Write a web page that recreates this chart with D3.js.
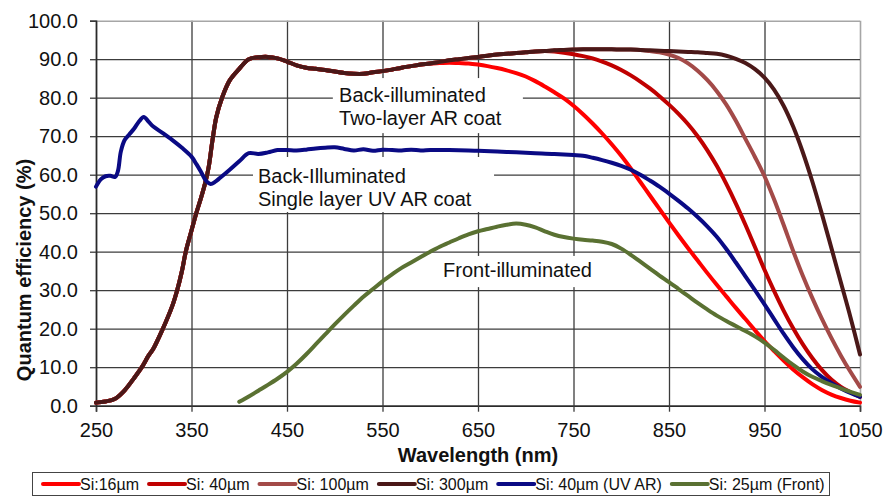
<!DOCTYPE html>
<html>
<head>
<meta charset="utf-8">
<script src="https://cdn.jsdelivr.net/npm/d3@7"></script>
<style>
	body { margin: 0; background: #fff; }
	text { font-family: "Liberation Sans", Arial, sans-serif; }
</style>
</head>
<body>
<div id="chart-area"></div>
<script>
// DATA - wavelength (nm), quantum efficiency (%)
// the four back-illuminated curves share the same shape below ~600 nm
const backShared = [
	[250, 0.8], [260, 1.1], [270, 1.8], [280, 4.0], [290, 7.2], [298, 10], [305, 13],
	[310, 14.8], [320, 20], [330, 26], [335, 30], [340, 35], [344, 40], [350, 45.5],
	[355, 50], [360, 54], [365, 58.5], [368, 62], [372, 69], [376, 75], [382, 80],
	[390, 84.5], [400, 87.5], [410, 90], [420, 90.5], [430, 90.6], [440, 90.2],
	[450, 89.4], [460, 88.4], [470, 87.8], [480, 87.5], [490, 87.2], [500, 86.8],
	[510, 86.4], [520, 86.2], [530, 86.2], [540, 86.6], [550, 86.9], [560, 87.3],
	[570, 87.8], [580, 88.2], [590, 88.6], [600, 88.9]
]

const tail16 = [
	[610, 89.0], [620, 89.1], [630, 89.0], [640, 88.9], [650, 88.6], [660, 88.2],
	[670, 87.7], [680, 87.1], [690, 86.4], [700, 85.5], [710, 84.3], [720, 82.9],
	[730, 81.4], [740, 79.8], [750, 77.9], [760, 75.7], [770, 73.3], [780, 70.7],
	[790, 67.9], [800, 64.9], [810, 61.6], [820, 58.1], [830, 54.6], [840, 51.1],
	[850, 47.6], [860, 44.2], [870, 40.9], [880, 37.7], [890, 34.5], [900, 31.4],
	[910, 28.4], [920, 25.4], [930, 22.5], [940, 19.6], [950, 16.8], [960, 14.2],
	[970, 11.7], [980, 9.4], [990, 7.4], [1000, 5.6], [1010, 4.1], [1020, 2.9],
	[1030, 2.0], [1040, 1.3], [1050, 0.8]
]

const tail300 = [
	[610, 89.3], [620, 89.7], [630, 90.0], [640, 90.3], [650, 90.6], [660, 90.9],
	[670, 91.2], [680, 91.4], [690, 91.6], [700, 91.8], [710, 92.0], [720, 92.1],
	[730, 92.3], [740, 92.4], [750, 92.5], [760, 92.6], [770, 92.6], [780, 92.6],
	[790, 92.6], [800, 92.5], [810, 92.5], [820, 92.4], [830, 92.3], [840, 92.2],
	[850, 92.1], [860, 92.0], [870, 91.9], [880, 91.8], [890, 91.6], [900, 91.4],
	[910, 90.9], [920, 90.1], [930, 89.0], [940, 87.4], [950, 85.2], [960, 82.1],
	[970, 77.9], [980, 72.5], [990, 65.9], [1000, 58.3], [1010, 49.9], [1020, 41.0],
	[1030, 32.0], [1040, 23.0], [1050, 13.3]
]

const tail40 = [
	[730, 92.0], [740, 91.7], [750, 91.3], [760, 90.8], [770, 90.2], [780, 89.4],
	[790, 88.4], [800, 87.2], [810, 85.8], [820, 84.2], [830, 82.4], [840, 80.4],
	[850, 78.2], [860, 75.8], [870, 73.1], [880, 70.0], [890, 66.4], [900, 62.3],
	[910, 57.6], [920, 52.5], [930, 47.0], [940, 41.2], [950, 35.3], [960, 29.8],
	[970, 24.7], [980, 20.1], [990, 16.0], [1000, 12.4], [1010, 9.3], [1020, 6.8],
	[1030, 4.9], [1040, 3.5], [1050, 2.3]
]

const tail100 = [
	[830, 92.1], [840, 91.8], [850, 91.2], [860, 90.3], [870, 88.9], [880, 87.0],
	[890, 84.6], [900, 81.7], [910, 78.2], [920, 74.0], [930, 69.3], [940, 64.6],
	[950, 59.6], [960, 53.6], [970, 47.0], [980, 40.2], [990, 33.8], [1000, 28.0],
	[1010, 22.6], [1020, 17.6], [1030, 13.0], [1040, 8.8], [1050, 4.9]
]

const uvAR = [
	[250, 56.9], [255, 58.8], [260, 59.6], [265, 59.7], [270, 59.4], [273, 61],
	[276, 66], [280, 69], [285, 70.5], [290, 72], [295, 73.8], [300, 75],
	[305, 73.8], [310, 72.5], [320, 70.8], [330, 69], [340, 67], [350, 64.7],
	[355, 62.8], [360, 60.7], [365, 58.5], [370, 57.6], [375, 58.2], [380, 59.2],
	[390, 61.3], [400, 63.5], [410, 65.6], [420, 65.4], [430, 65.8], [440, 66.4],
	[450, 66.4], [460, 66.3], [470, 66.5], [480, 66.8], [490, 67.0], [500, 67.1],
	[510, 66.7], [520, 66.3], [530, 66.6], [540, 66.2], [550, 66.5], [560, 66.4],
	[570, 66.3], [580, 66.5], [590, 66.3], [600, 66.4], [620, 66.4], [640, 66.3],
	[650, 66.2], [670, 66.0], [690, 65.8], [710, 65.6], [730, 65.4], [750, 65.1],
	[760, 64.9], [770, 64.4], [780, 63.8], [790, 63.1], [800, 62.3], [810, 61.3],
	[820, 60.0], [830, 58.5], [840, 56.9], [850, 55.1], [860, 53.2], [870, 51.2],
	[880, 49.0], [890, 46.6], [900, 43.9], [910, 40.7], [920, 37.2], [930, 33.6],
	[940, 30.0], [950, 26.3], [960, 22.5], [970, 18.7], [980, 15.2], [990, 12.1],
	[1000, 9.5], [1010, 7.5], [1020, 5.9], [1030, 4.5], [1040, 3.3], [1050, 2.3]
]

const front = [
	[400, 1.0], [410, 2.4], [420, 3.9], [430, 5.4], [440, 7.0], [450, 8.8],
	[460, 10.9], [470, 13.3], [480, 15.9], [490, 18.5], [500, 21.1], [510, 23.6],
	[520, 26.0], [530, 28.3], [540, 30.3], [550, 32.3], [560, 34.1], [570, 35.8],
	[580, 37.2], [590, 38.6], [600, 40.0], [610, 41.3], [620, 42.4], [630, 43.5],
	[640, 44.5], [650, 45.3], [660, 45.9], [670, 46.5], [680, 47.0], [690, 47.3],
	[700, 47.0], [710, 46.3], [720, 45.3], [730, 44.4], [740, 43.8], [750, 43.4],
	[760, 43.1], [770, 42.9], [780, 42.6], [790, 42.0], [800, 40.8], [810, 39.2],
	[820, 37.4], [830, 35.6], [840, 33.8], [850, 32.1], [860, 30.3], [870, 28.5],
	[880, 26.7], [890, 25.0], [900, 23.4], [910, 22.0], [920, 20.7], [930, 19.4],
	[940, 18.0], [950, 16.4], [960, 14.5], [970, 12.5], [980, 10.6], [990, 8.9],
	[1000, 7.5], [1010, 6.4], [1020, 5.4], [1030, 4.5], [1040, 3.6], [1050, 2.8]
]

const seriesNames = ["Si:16\u00b5m", "Si: 40\u00b5m", "Si: 100\u00b5m", "Si: 300\u00b5m", "Si: 40\u00b5m (UV AR)", "Si: 25\u00b5m (Front)"]
const seriesColors = ["#ff0000", "#c00000", "#a34a48", "#4a1818", "#0a0a84", "#5a7132"]

const xTicks = [250, 350, 450, 550, 650, 750, 850, 950, 1050]
const yTicks = [0, 10, 20, 30, 40, 50, 60, 70, 80, 90, 100]

// build the full curves from the pieces
const upTo = (arr, nm) => arr.filter(d => d[0] <= nm)
const seriesData = [
	backShared.concat(tail16),
	backShared.concat(upTo(tail300, 720), tail40),
	backShared.concat(upTo(tail300, 820), tail100),
	backShared.concat(tail300),
	uvAR,
	front
]

// MARGINS
const MARGIN = { LEFT: 96, RIGHT: 24, TOP: 20.7, BOTTOM: 91.3 }
const AREA_WIDTH = 884
const AREA_HEIGHT = 497
const WIDTH = AREA_WIDTH - MARGIN.LEFT - MARGIN.RIGHT
const HEIGHT = AREA_HEIGHT - MARGIN.TOP - MARGIN.BOTTOM

const svg = d3.select("#chart-area").append("svg")
	.attr("width", AREA_WIDTH)
	.attr("height", AREA_HEIGHT)

const g = svg.append("g")
	.attr("transform", `translate(${MARGIN.LEFT},${MARGIN.TOP})`)

// SCALES
const x = d3.scaleLinear().domain([250, 1050]).range([0, WIDTH])
const y = d3.scaleLinear().domain([0, 100]).range([HEIGHT, 0])

// GRIDLINES (inner ones dark, outer frame light grey)
const gridX = g.append("g")
	.call(d3.axisBottom(x).tickValues(xTicks).tickSize(HEIGHT).tickFormat(""))
gridX.select(".domain").remove()
gridX.selectAll("line")
	.attr("stroke", d => d === 1050 ? "#a6a6a6" : "#3c3c3c")
	.attr("stroke-width", d => d === 1050 ? 1.6 : 1.3)

const gridY = g.append("g")
	.attr("transform", `translate(${WIDTH},0)`)
	.call(d3.axisLeft(y).tickValues(yTicks).tickSize(WIDTH).tickFormat(""))
gridY.select(".domain").remove()
gridY.selectAll("line")
	.attr("stroke", d => d === 100 ? "#a6a6a6" : "#3c3c3c")
	.attr("stroke-width", d => d === 100 ? 1.6 : 1.3)

// TEXT BOXES (white patches behind the annotations), box = [nm from, nm to, qe top, qe bottom]
const notes = [
	{ lines: ["Back-illuminated", "Two-layer AR coat"], nm: 504.5, qe: 78.9, box: [498, 697, 85.1, 70.8] },
	{ lines: ["Back-Illuminated", "Single layer UV AR coat"], nm: 419.6, qe: 57.8, box: [414.4, 666.8, 64.6, 50.3] },
	{ lines: ["Front-illuminated"], nm: 613.4, qe: 33.4, box: [608, 782, 38.9, 30.8] }
]

g.selectAll("rect.note-box")
	.data(notes)
	.enter().append("rect")
	.attr("class", "note-box")
	.attr("x", d => x(d.box[0]))
	.attr("y", d => y(d.box[2]))
	.attr("width", d => x(d.box[1]) - x(d.box[0]))
	.attr("height", d => y(d.box[3]) - y(d.box[2]))
	.attr("fill", "#fff")

// AXES
const xAxis = g.append("g")
	.attr("transform", `translate(0,${HEIGHT})`)
	.call(d3.axisBottom(x).tickValues(xTicks).tickSize(6).tickPadding(11).tickFormat(d3.format("d")))
const yAxis = g.append("g")
	.call(d3.axisLeft(y).tickValues(yTicks).tickSize(6).tickPadding(12).tickFormat(d3.format(".1f")))

;[xAxis, yAxis].forEach(a => {
	a.select(".domain").attr("stroke", "#2a2a2a").attr("stroke-width", 1.6)
	a.selectAll(".tick line").attr("stroke", "#3c3c3c").attr("stroke-width", 1.3)
	a.selectAll(".tick text")
		.attr("font-size", "20px")
		.attr("font-family", "'Liberation Sans', Arial, sans-serif")
		.attr("fill", "#111")
})

// CURVES
const line = d3.line()
	.x(d => x(d[0]))
	.y(d => y(d[1]))
	.curve(d3.curveCatmullRom.alpha(0.5))

g.selectAll("path.curve")
	.data(seriesData)
	.enter().append("path")
	.attr("class", "curve")
	.attr("d", line)
	.attr("fill", "none")
	.attr("stroke", (d, i) => seriesColors[i])
	.attr("stroke-width", 4)
	.attr("stroke-linejoin", "round")
	.attr("stroke-linecap", "round")

// ANNOTATIONS
notes.forEach(n => {
	const t = g.append("text")
		.attr("x", x(n.nm))
		.attr("y", y(n.qe))
		.attr("font-size", "20px")
		.attr("fill", "#111")
	n.lines.forEach((s, i) => {
		t.append("tspan")
			.attr("x", x(n.nm))
			.attr("dy", i === 0 ? 0 : 23)
			.text(s)
	})
})

// AXIS TITLES
svg.append("text")
	.attr("x", MARGIN.LEFT + WIDTH / 2)
	.attr("y", 462)
	.attr("text-anchor", "middle")
	.attr("font-size", "20px")
	.attr("font-weight", "bold")
	.attr("fill", "#111")
	.text("Wavelength (nm)")

svg.append("text")
	.attr("transform", "translate(31,270) rotate(-90)")
	.attr("text-anchor", "middle")
	.attr("font-size", "20px")
	.attr("font-weight", "bold")
	.attr("fill", "#111")
	.text("Quantum efficiency (%)")

// LEGEND
const legend = svg.append("g")
legend.append("rect")
	.attr("x", 32.5).attr("y", 472.5)
	.attr("width", 797).attr("height", 23)
	.attr("fill", "#fff")
	.attr("stroke", "#444")
	.attr("stroke-width", 1)

let lx = 43
seriesNames.forEach((name, i) => {
	legend.append("line")
		.attr("x1", lx).attr("x2", lx + 36)
		.attr("y1", 484).attr("y2", 484)
		.attr("stroke", seriesColors[i])
		.attr("stroke-width", 4)
		.attr("stroke-linecap", "round")
	const t = legend.append("text")
		.attr("x", lx + 37)
		.attr("y", 489.5)
		.attr("font-size", "16px")
		.attr("fill", "#111")
		.text(name)
	lx += 37 + t.node().getComputedTextLength() + 10
})
</script>
</body>
</html>
